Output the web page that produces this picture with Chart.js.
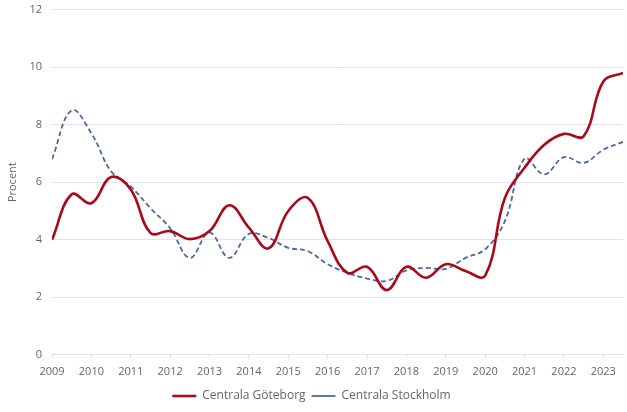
<!DOCTYPE html>
<html>
<head>
<meta charset="utf-8">
<script src="https://cdn.jsdelivr.net/npm/chart.js@4/dist/chart.umd.min.js"></script>
<style>
  html, body { margin: 0; padding: 0; background: #fff; overflow: hidden; }
  #wrap { position: relative; top: -7px; width: 627px; height: 419px; }
</style>
</head>
<body>
<div id="wrap"><canvas id="chart"></canvas></div>
<script>
// half-year periods
const periods = [2009, 2009.5, 2010, 2010.5, 2011, 2011.5, 2012, 2012.5, 2013, 2013.5,
                 2014, 2014.5, 2015, 2015.5, 2016, 2016.5, 2017, 2017.5, 2018, 2018.5,
                 2019, 2019.5, 2020, 2020.5, 2021, 2021.5, 2022, 2022.5, 2023, 2023.5];

const goteborg = [4.0, 5.58, 5.27, 6.18, 5.75, 4.24, 4.3, 4.02, 4.3, 5.2,
                  4.42, 3.7, 5.0, 5.45, 3.95, 2.85, 3.06, 2.25, 3.06, 2.68,
                  3.15, 2.91, 2.75, 5.45, 6.5, 7.3, 7.68, 7.6, 9.5, 9.8];

const stockholm = [6.8, 8.5, 7.7, 6.38, 5.85, 5.1, 4.4, 3.37, 4.25, 3.37,
                   4.2, 4.06, 3.72, 3.6, 3.15, 2.85, 2.65, 2.57, 2.93, 3.02,
                   2.99, 3.37, 3.67, 4.65, 6.82, 6.27, 6.87, 6.67, 7.13, 7.4];

const xTicks = [2009, 2010, 2011, 2012, 2013, 2014, 2015, 2016,
                2017, 2018, 2019, 2020, 2021, 2022, 2023];
const yTicks = [0, 2, 4, 6, 8, 10, 12];

const toPoints = vals => vals.map((v, i) => ({ x: periods[i], y: v }));

const ctx = document.getElementById('chart').getContext('2d');
new Chart(ctx, {
    type: 'line',
    data: {
        datasets: [{
            label: 'Centrala Göteborg',
            data: toPoints(goteborg),
            borderColor: '#a80a1c',
            backgroundColor: '#a80a1c',
            borderWidth: 2.6,
            tension: 0.4,
            pointRadius: 0
        }, {
            label: 'Centrala Stockholm',
            data: toPoints(stockholm),
            borderColor: '#4e6a9c',
            backgroundColor: '#4e6a9c',
            borderWidth: 1.8,
            borderDash: [5, 3],
            tension: 0.4,
            pointRadius: 0
        }]
    },
    options: {
        responsive: true,
        maintainAspectRatio: false,
        animation: false,
        layout: { padding: { top: 0, right: 4, left: 0, bottom: 0 } },
        plugins: {
            tooltip: { enabled: false },
            legend: {
                position: 'bottom',
                labels: {
                    usePointStyle: true,
                    pointStyle: 'line',
                    pointStyleWidth: 24,
                    color: '#666',
                    font: { family: 'Open Sans', size: 12 },
                    padding: 6
                }
            }
        },
        scales: {
            x: {
                type: 'linear',
                min: 2009,
                max: 2023.5,
                afterBuildTicks: s => { s.ticks = xTicks.map(v => ({ value: v })); },
                ticks: {
                    autoSkip: false,
                    maxRotation: 0,
                    color: '#666',
                    font: { family: 'Open Sans', size: 11 },
                    padding: 6,
                    callback: v => String(v)
                },
                grid: { drawOnChartArea: false, drawTicks: true, tickLength: 4, color: '#e0e0e0' },
                border: { display: true, color: '#e0e0e0' }
            },
            y: {
                min: 0,
                max: 12,
                afterBuildTicks: s => { s.ticks = yTicks.map(v => ({ value: v })); },
                afterFit: s => { s.width = 52; },
                ticks: {
                    color: '#666',
                    font: { family: 'Open Sans', size: 11 },
                    padding: 10
                },
                title: {
                    display: true,
                    text: 'Procent',
                    color: '#666',
                    font: { family: 'Open Sans', size: 11 },
                    padding: { top: 6, bottom: 0 }
                },
                grid: { color: '#e4e4e4', drawTicks: false },
                border: { display: false }
            }
        }
    }
});
</script>
</body>
</html>
